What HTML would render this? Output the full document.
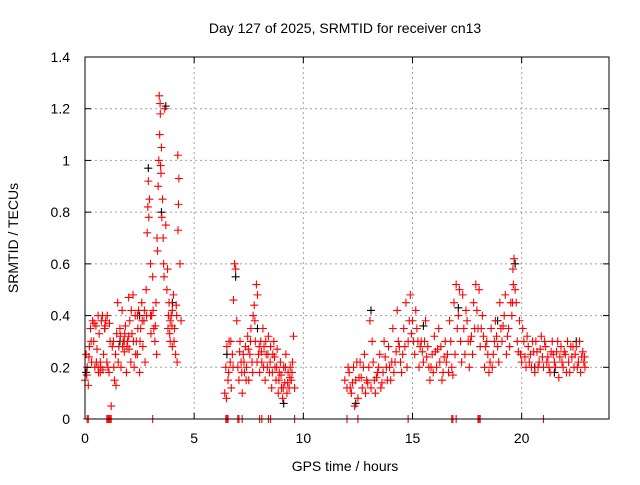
<!DOCTYPE html>
<html><head><meta charset="utf-8"><style>
html,body{margin:0;padding:0;background:#fff}
svg text{font-family:"Liberation Sans",sans-serif;font-size:14px;fill:#000}
</style></head><body>
<svg id="chart" width="640" height="480" viewBox="0 0 640 480" xmlns="http://www.w3.org/2000/svg">
<rect width="640" height="480" fill="#fff"/>
<g id="grid"></g>
<g id="blk"></g>
<g id="red"></g>
<rect x="85" y="57" width="524" height="362" fill="none" stroke="#000"/>
<g id="ticks"></g>
<text x="345" y="33" text-anchor="middle">Day 127 of 2025, SRMTID for receiver cn13</text>
<text x="345" y="471" text-anchor="middle">GPS time / hours</text>
<text x="0" y="0" text-anchor="middle" transform="translate(18,238) rotate(-90)">SRMTID / TECUs</text>
</svg>
<script>
const xTicks=[0,5,10,15,20];
const yTicks=[0,0.2,0.4,0.6,0.8,1,1.2,1.4];
const yTickLabels=["0","0.2","0.4","0.6","0.8","1","1.2","1.4"];
const redSeg1=[[0,0.15],[0.05,0.25],[0.1,0.2],[0.15,0.13],[0.2,0.28],[0.25,0.35],[0.3,0.22],[0.35,0.38],[0.4,0.3],[0.45,0.2],[0.5,0.36],[0.55,0.27],[0.6,0.4],[0.65,0.33],[0.7,0.18],[0.75,0.38],[0.8,0.4],[0.85,0.25],[0.9,0.35],[0.95,0.38],[1.0,0.22],[1.05,0.2],[1.1,0.18],[1.15,0.3],[1.2,0.05],[1.25,0.28],[1.3,0.3],[1.35,0.15],[1.4,0.25],[1.45,0.33],[1.5,0.45],[1.55,0.28],[1.6,0.35],[1.65,0.2],[1.7,0.42],[1.75,0.3],[1.8,0.26],[1.85,0.36],[1.9,0.18],[1.95,0.3],[2.0,0.47],[2.05,0.38],[2.1,0.22],[2.15,0.33],[2.2,0.48],[2.25,0.2],[2.3,0.4],[2.35,0.3],[2.4,0.25],[2.45,0.42],[2.5,0.18],[2.55,0.35],[2.6,0.45],[2.65,0.28],[2.7,0.38],[2.75,0.22],[2.8,0.5],[2.85,0.72],[2.9,0.92],[2.95,0.85],[3.0,0.6],[3.05,0.4],[3.1,0.55],[3.15,0.35],[3.2,0.3],[3.25,0.45],[3.3,0.7],[3.35,0.9],[3.4,1.25],[3.45,1.18],[3.5,1.05],[3.55,0.85],[3.6,0.6],[3.65,1.2],[3.7,0.75],[3.75,0.5],[3.8,0.35],[3.85,0.45],[3.9,0.3],[3.95,0.4],[4.0,0.28],[4.05,0.48],[4.1,0.35],[4.15,0.25],[4.2,0.4],[4.25,1.02],[4.3,0.93],[4.35,0.6],[4.4,0.38],[3.42,1.1],[3.48,0.95],[3.52,0.78],[3.38,1.0],[3.32,0.65],[2.92,0.78],[2.88,0.82],[3.58,0.7],[3.62,0.55],[4.28,0.83],[4.26,0.73],[3.44,1.22],[3.46,0.98],[0.6,0.2],[0.7,0.22],[1.8,0.3],[2.0,0.32],[2.4,0.4],[3.0,0.4],[3.9,0.38],[4.0,0.42]];
const redSeg2=[[6.4,0.1],[6.45,0.2],[6.5,0.28],[6.55,0.15],[6.6,0.3],[6.65,0.22],[6.7,0.12],[6.75,0.25],[6.8,0.46],[6.85,0.6],[6.9,0.58],[6.95,0.38],[7.0,0.2],[7.05,0.15],[7.1,0.3],[7.15,0.22],[7.2,0.1],[7.25,0.25],[7.3,0.18],[7.35,0.28],[7.4,0.2],[7.45,0.32],[7.5,0.15],[7.55,0.25],[7.6,0.35],[7.65,0.22],[7.7,0.4],[7.75,0.44],[7.8,0.3],[7.85,0.52],[7.9,0.48],[7.95,0.25],[8.0,0.18],[8.05,0.3],[8.1,0.22],[8.15,0.35],[8.2,0.28],[8.25,0.15],[8.3,0.25],[8.35,0.2],[8.4,0.32],[8.45,0.18],[8.5,0.28],[8.55,0.12],[8.6,0.25],[8.65,0.3],[8.7,0.2],[8.75,0.15],[8.8,0.27],[8.85,0.1],[8.9,0.18],[8.95,0.22],[9.0,0.12],[9.05,0.08],[9.1,0.2],[9.15,0.14],[9.2,0.25],[9.25,0.1],[9.3,0.18],[9.35,0.12],[9.4,0.2],[9.45,0.15],[9.5,0.22],[9.55,0.32],[9.6,0.12]];
const redSeg3=[[11.9,0.15],[12.0,0.12],[12.1,0.18],[12.2,0.1],[12.3,0.2],[12.35,0.05],[12.4,0.15],[12.5,0.08],[12.6,0.22],[12.7,0.12],[12.8,0.25],[12.9,0.15],[13.0,0.2],[13.05,0.38],[13.1,0.12],[13.2,0.22],[13.3,0.1],[13.4,0.18],[13.5,0.25],[13.6,0.14],[13.7,0.3],[13.8,0.2],[13.9,0.28],[14.0,0.15],[14.1,0.35],[14.2,0.22],[14.3,0.42],[14.4,0.28],[14.5,0.18],[14.6,0.35],[14.7,0.45],[14.8,0.3],[14.9,0.48],[15.0,0.38],[15.1,0.25],[15.2,0.35],[15.3,0.2],[15.4,0.3],[15.5,0.22],[15.6,0.38],[15.7,0.28],[15.8,0.15],[15.9,0.25],[16.0,0.32],[16.1,0.2],[16.2,0.35],[16.3,0.28],[16.4,0.18],[16.5,0.3],[16.6,0.25],[16.7,0.38],[16.8,0.2],[16.9,0.45],[17.0,0.52],[17.1,0.4],[17.2,0.3],[17.3,0.48],[17.4,0.25],[17.5,0.38],[17.6,0.2],[17.7,0.32],[17.8,0.45],[17.9,0.52],[18.0,0.35],[18.1,0.28],[18.2,0.4],[18.3,0.2],[18.4,0.3],[18.5,0.18],[18.6,0.35],[18.7,0.25],[18.8,0.38],[18.9,0.28],[19.0,0.45],[19.1,0.3],[19.2,0.4],[19.3,0.25],[19.4,0.35],[19.5,0.45],[19.6,0.58],[19.65,0.62],[19.7,0.5],[19.8,0.3],[19.9,0.38],[20.0,0.22],[20.1,0.3],[20.2,0.2],[20.3,0.28],[20.4,0.25],[20.5,0.3],[20.6,0.18],[20.7,0.26],[20.8,0.22],[20.9,0.32],[21.0,0.2],[21.1,0.28],[21.2,0.24],[21.3,0.18],[21.4,0.3],[21.5,0.22],[21.6,0.26],[21.7,0.16],[21.8,0.28],[21.9,0.2],[22.0,0.25],[22.1,0.3],[22.2,0.18],[22.3,0.24],[22.4,0.2],[22.5,0.28],[22.6,0.22],[22.7,0.18],[22.8,0.26],[22.9,0.2]];
const redSeg3b=[[12.05,0.2],[12.25,0.14],[12.45,0.22],[12.65,0.16],[12.85,0.1],[13.15,0.3],[13.35,0.16],[13.55,0.12],[13.75,0.24],[13.95,0.2],[14.15,0.18],[14.35,0.3],[14.55,0.25],[14.75,0.2],[14.95,0.33],[15.15,0.42],[15.35,0.28],[15.55,0.3],[15.75,0.2],[15.95,0.18],[16.15,0.27],[16.35,0.15],[16.55,0.22],[16.75,0.3],[16.95,0.25],[17.05,0.35],[17.15,0.5],[17.25,0.22],[17.45,0.42],[17.65,0.3],[17.85,0.35],[18.05,0.5],[18.25,0.32],[18.45,0.25],[18.65,0.2],[18.85,0.32],[19.05,0.35],[19.25,0.48],[19.45,0.28],[19.55,0.4],[19.62,0.52],[19.75,0.45],[19.95,0.25],[20.05,0.35],[20.25,0.32],[20.45,0.2],[20.65,0.3],[20.85,0.27],[21.05,0.3],[21.25,0.2],[21.45,0.25],[21.65,0.3],[21.85,0.22],[22.05,0.18],[22.25,0.28],[22.45,0.25],[22.65,0.3],[22.85,0.22]];
const redExtra=[[0.08,0.17],[0.18,0.24],[0.28,0.3],[0.42,0.37],[0.52,0.22],[0.62,0.18],[0.72,0.2],[0.82,0.19],[0.92,0.36],[1.02,0.4],[1.12,0.37],[1.32,0.2],[1.42,0.13],[1.52,0.22],[1.62,0.32],[1.72,0.28],[1.82,0.33],[1.92,0.28],[2.02,0.27],[2.12,0.42],[2.22,0.3],[2.32,0.25],[2.42,0.35],[2.52,0.3],[2.62,0.38],[2.72,0.42],[2.82,0.4],[3.02,0.33],[3.12,0.42],[3.22,0.36],[3.28,0.25],[3.78,0.58],[3.82,0.4],[3.88,0.33],[3.98,0.36],[4.08,0.3],[4.18,0.44],[4.22,0.22],[6.48,0.08],[6.58,0.18],[6.68,0.3],[6.78,0.2],[7.08,0.26],[7.18,0.18],[7.28,0.22],[7.38,0.15],[7.48,0.27],[7.58,0.3],[7.68,0.18],[7.78,0.38],[7.88,0.22],[7.98,0.28],[8.08,0.26],[8.18,0.2],[8.28,0.3],[8.38,0.25],[8.48,0.22],[8.58,0.18],[8.68,0.24],[8.78,0.2],[8.88,0.15],[8.98,0.17],[9.08,0.12],[9.18,0.2],[9.28,0.14],[9.38,0.16],[9.48,0.18],[12.15,0.12],[12.55,0.16],[12.75,0.2],[12.95,0.14],[13.25,0.15],[13.45,0.2],[13.65,0.18],[13.85,0.15],[14.05,0.22],[14.25,0.26],[14.45,0.22],[14.65,0.28],[14.85,0.38],[15.05,0.3],[15.25,0.3],[15.45,0.26],[15.65,0.24],[15.85,0.2],[16.05,0.26],[16.25,0.22],[16.45,0.24],[16.65,0.18],[16.85,0.17],[17.35,0.35],[17.55,0.3],[17.75,0.25],[17.95,0.42],[18.15,0.35],[18.35,0.28],[18.55,0.22],[18.75,0.3],[18.95,0.22],[19.15,0.36],[19.35,0.32],[19.58,0.45],[19.85,0.26],[20.15,0.24],[20.35,0.22],[20.55,0.26],[20.75,0.2],[20.95,0.24],[21.15,0.22],[21.35,0.26],[21.55,0.2],[21.75,0.24],[21.95,0.26],[22.15,0.22],[22.35,0.28],[22.55,0.2],[22.75,0.24],[22.88,0.24]];
const blackPts=[[0.05,0.18],[0.9,0.35],[1.6,0.3],[2.5,0.4],[2.9,0.97],[3.5,0.8],[3.7,1.21],[4.0,0.45],[6.5,0.25],[6.9,0.55],[7.9,0.35],[9.1,0.06],[12.4,0.06],[13.1,0.42],[15.5,0.36],[17.1,0.43],[18.9,0.38],[19.7,0.6],[20.6,0.2],[21.5,0.18],[22.5,0.3]];
const zeroTimes=[0.1,0.15,1.0,1.05,1.1,1.15,1.2,3.1,6.45,6.5,6.55,7.0,7.05,7.2,8.0,8.1,8.4,8.5,9.6,12.0,12.5,14.8,16.8,16.85,17.0,18.0,18.05,18.1,21.0];

const X0=85,X1=609,Y0=419,Y1=57;
const xs=t=>X0+(t/24)*(X1-X0);
const ys=v=>Y0-(v/1.4)*(Y0-Y1);
const NS="http://www.w3.org/2000/svg";
function mk(tag,attrs,parent){const e=document.createElementNS(NS,tag);for(const k in attrs)e.setAttribute(k,attrs[k]);parent.appendChild(e);return e;}
const grid=document.getElementById('grid'),ticks=document.getElementById('ticks');
xTicks.forEach(t=>{const x=xs(t);
 if(t>0){const g=mk('line',{x1:x,x2:x,y1:Y1,y2:Y0,stroke:'#a0a0a0','stroke-dasharray':'2,3'},grid);}
 const l=mk('line',{x1:x,x2:x,y1:Y0,y2:Y0-6,stroke:'#000'},ticks);
 const l2=mk('line',{x1:x,x2:x,y1:Y1,y2:Y1+6,stroke:'#000'},ticks);
 const tx=mk('text',{x:x,y:443,'text-anchor':'middle'},ticks);tx.textContent=String(t);});
yTicks.forEach((v,i)=>{const y=ys(v);
 if(v>0&&v<1.4){const g=mk('line',{x1:X0,x2:X1,y1:y,y2:y,stroke:'#a0a0a0','stroke-dasharray':'2,3'},grid);}
 const l=mk('line',{x1:X0,x2:X0+6,y1:y,y2:y,stroke:'#000'},ticks);
 const l2=mk('line',{x1:X1,x2:X1-6,y1:y,y2:y,stroke:'#000'},ticks);
 const tx=mk('text',{x:70,y:y+5,'text-anchor':'end'},ticks);tx.textContent=yTickLabels[i];});
function plus(g,t,v,col){const x=xs(t),y=ys(v);
 const p=mk('path',{d:`M${x-4},${y}H${x+4}M${x},${y-4}V${y+4}`,stroke:col,'stroke-width':1.1,fill:'none'},g);
 
 }
const blk=document.getElementById('blk'),red=document.getElementById('red');
blackPts.forEach(p=>plus(blk,p[0],p[1],'#000'));
[redSeg1,redSeg2,redSeg3,redSeg3b,redExtra].forEach(s=>s.forEach(p=>plus(red,p[0],p[1],'#ff0000')));
zeroTimes.forEach(t=>plus(red,t,0,'#ff0000'));
</script>
</body></html>
